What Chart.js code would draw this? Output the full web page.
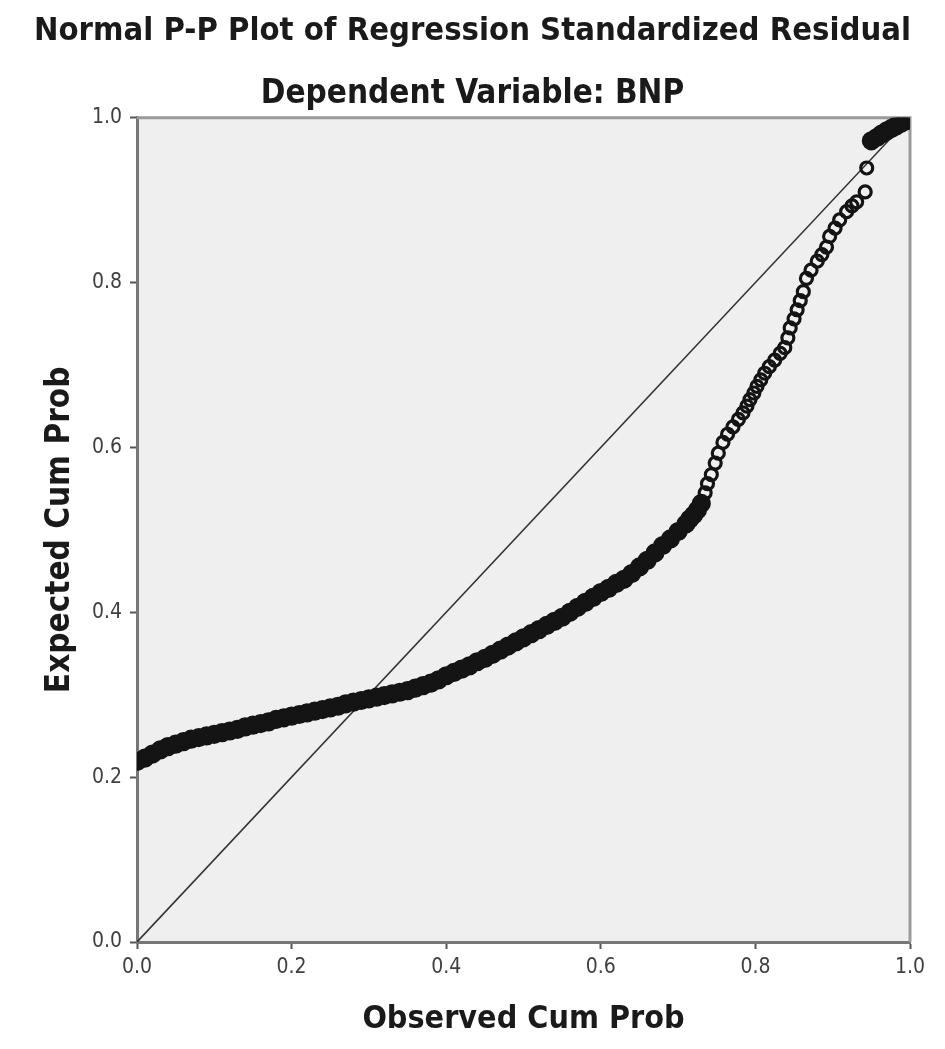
<!DOCTYPE html>
<html>
<head>
<meta charset="utf-8">
<script src="https://cdn.jsdelivr.net/npm/chart.js@4.4.1/dist/chart.umd.min.js"></script>
<style>
  html, body { margin: 0; padding: 0; background: #ffffff; }
  #wrap { width: 945px; height: 1049px; }
</style>
</head>
<body>
<div id="wrap"><canvas id="c" width="945" height="1049"></canvas></div>
<script>
// ---- data ----
const chartTitle = "Normal P-P Plot of Regression Standardized Residual";
const chartSubtitle = "Dependent Variable: BNP";
const xAxisTitle = "Observed Cum Prob";
const yAxisTitle = "Expected Cum Prob";
const tickValues = [0.0, 0.2, 0.4, 0.6, 0.8, 1.0];

const observedCumProb = [
  0.00,0.01,0.02,0.03,0.04,0.05,0.06,0.07,0.08,0.09,
  0.10,0.11,0.12,0.13,0.14,0.15,0.16,0.17,0.18,0.19,
  0.20,0.21,0.22,0.23,0.24,0.25,0.26,0.27,0.28,0.29,
  0.30,0.31,0.32,0.33,0.34,0.35,0.36,0.37,0.38,0.39,
  0.40,0.41,0.42,0.43,0.44,0.45,0.46,0.47,0.48,0.49,
  0.50,0.51,0.52,0.53,0.54,0.55,0.56,0.57,0.58,0.59,
  0.60,0.61,0.62,0.63,0.64,0.65,0.66,0.67,0.68,0.69,
  0.70,0.71,0.715,0.72,0.725,0.73,
  0.735,0.738,0.743,0.748,0.752,0.758,0.764,0.771,0.778,0.784,
  0.789,0.793,0.798,0.802,0.807,0.812,0.818,0.825,0.832,0.838,
  0.842,0.845,0.850,0.854,0.858,0.862,0.866,0.872,0.880,0.886,
  0.892,0.896,0.903,0.909,0.918,0.925,0.931,0.942,0.944,
  0.950,0.957,0.963,0.970,0.976,0.982,0.988,0.994,1.000
];
const expectedCumProb = [
  0.219,0.223,0.228,0.233,0.237,0.240,0.243,0.246,0.248,0.250,
  0.252,0.254,0.256,0.258,0.261,0.263,0.265,0.267,0.270,0.272,
  0.274,0.276,0.278,0.280,0.282,0.284,0.286,0.289,0.291,0.293,
  0.295,0.297,0.299,0.301,0.303,0.305,0.308,0.311,0.314,0.318,
  0.323,0.327,0.331,0.335,0.340,0.344,0.349,0.354,0.359,0.364,
  0.369,0.374,0.379,0.384,0.389,0.394,0.400,0.406,0.412,0.418,
  0.424,0.429,0.435,0.440,0.447,0.455,0.463,0.472,0.481,0.489,
  0.498,0.507,0.513,0.518,0.524,0.532,
  0.545,0.556,0.567,0.581,0.593,0.606,0.616,0.625,0.634,0.642,
  0.650,0.658,0.666,0.674,0.682,0.690,0.698,0.706,0.714,0.721,
  0.733,0.745,0.756,0.767,0.778,0.789,0.805,0.815,0.826,0.834,
  0.843,0.856,0.866,0.876,0.886,0.893,0.898,0.910,0.939,
  0.972,0.976,0.980,0.984,0.987,0.990,0.993,0.996,1.000
];
const referenceLineX = [0, 1];
const referenceLineY = [0, 1];

// ---- build datasets ----
const points = observedCumProb.map((x, i) => ({ x: x, y: expectedCumProb[i] }));
const refLine = referenceLineX.map((x, i) => ({ x: x, y: referenceLineY[i] }));
const isDense = (i) => observedCumProb[i] < 0.735 || observedCumProb[i] >= 0.95;

const FONT = "'DejaVu Sans Condensed', 'DejaVu Sans', 'Liberation Sans', sans-serif";

const plotBackground = {
  id: 'plotBackground',
  beforeDraw(chart) {
    const { ctx, chartArea: a } = chart;
    ctx.save();
    ctx.fillStyle = '#efefef';
    ctx.fillRect(a.left, a.top, a.right - a.left, a.bottom - a.top);
    ctx.restore();
  },
  beforeDatasetsDraw(chart) {
    const { ctx, chartArea: a } = chart;
    ctx.save();
    ctx.strokeStyle = '#9a9a9a';
    ctx.lineWidth = 3;
    ctx.beginPath();
    ctx.moveTo(a.left, a.top);
    ctx.lineTo(a.right, a.top);
    ctx.lineTo(a.right, a.bottom);
    ctx.stroke();
    ctx.restore();
  }
};

new Chart(document.getElementById('c'), {
  type: 'scatter',
  data: {
    datasets: [
      {
        type: 'line',
        data: refLine,
        borderColor: '#333333',
        borderWidth: 1.6,
        pointRadius: 0,
        fill: false,
        order: 2
      },
      {
        type: 'scatter',
        data: points,
        pointStyle: 'circle',
        backgroundColor: (ctx) => (isDense(ctx.dataIndex) ? '#141414' : 'rgba(0,0,0,0)'),
        borderColor: '#141414',
        borderWidth: 3.2,
        pointRadius: (ctx) => (isDense(ctx.dataIndex) ? 8 : 6),
        order: 1
      }
    ]
  },
  options: {
    responsive: false,
    animation: false,
    layout: { padding: { left: 0, right: 0, top: 0, bottom: 0 } },
    plugins: {
      legend: { display: false },
      tooltip: { enabled: false },
      title: {
        display: true,
        text: chartTitle,
        color: '#1a1a1a',
        font: { family: FONT, size: 32.5, weight: 'bold', lineHeight: 1.2 },
        padding: { top: 12.5, bottom: 10 }
      },
      subtitle: {
        display: true,
        text: chartSubtitle,
        color: '#1a1a1a',
        font: { family: FONT, size: 33, weight: 'bold', lineHeight: 1.2 },
        padding: { top: 13.4, bottom: 3.2 }
      }
    },
    scales: {
      x: {
        type: 'linear',
        min: 0, max: 1,
        afterBuildTicks(scale) { scale.ticks = tickValues.map(v => ({ value: v })); },
        afterFit(scale) { scale.height = 107; },
        ticks: {
          color: '#404040',
          font: { family: FONT, size: 21 },
          padding: 6,
          maxRotation: 0,
          callback: (v) => Number(v).toFixed(1)
        },
        grid: { drawOnChartArea: false, tickLength: 7, tickColor: '#555555', tickWidth: 2 },
        border: { color: '#777777', width: 3 },
        title: {
          display: true,
          text: xAxisTitle,
          color: '#1a1a1a',
          font: { family: FONT, size: 32, weight: 'bold', lineHeight: 1.2 },
          padding: { top: 0, bottom: 9.8 }
        }
      },
      y: {
        type: 'linear',
        min: 0, max: 1,
        afterBuildTicks(scale) { scale.ticks = tickValues.map(v => ({ value: v })); },
        afterFit(scale) { scale.width = 137; },
        ticks: {
          color: '#404040',
          font: { family: FONT, size: 21 },
          padding: 8,
          callback: (v) => Number(v).toFixed(1)
        },
        grid: { drawOnChartArea: false, tickLength: 7, tickColor: '#555555', tickWidth: 2 },
        border: { color: '#777777', width: 3 },
        title: {
          display: true,
          text: yAxisTitle,
          color: '#1a1a1a',
          font: { family: FONT, size: 33, weight: 'bold', lineHeight: 1.2 },
          padding: { top: 40.2, bottom: 0 }
        }
      },
      yRightSpacer: {
        type: 'linear',
        position: 'right',
        min: 0, max: 1,
        display: true,
        afterFit(scale) { scale.width = 35; },
        ticks: { display: false },
        grid: { display: false, drawTicks: false },
        border: { display: false },
        title: { display: false }
      }
    }
  },
  plugins: [plotBackground]
});
</script>
</body>
</html>
